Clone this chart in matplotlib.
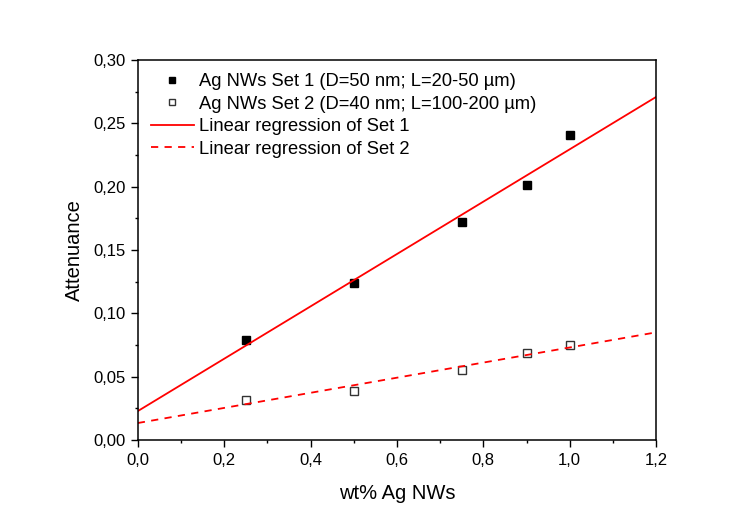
import numpy as np
import matplotlib
matplotlib.use("Agg")
import matplotlib.pyplot as plt
from matplotlib.ticker import MultipleLocator, FuncFormatter

plt.rcParams['font.family'] = ['Liberation Sans', 'DejaVu Sans']

# data
wt = [0.25, 0.5, 0.75, 0.9, 1.0]
set1 = [0.079, 0.124, 0.172, 0.201, 0.241]
set2 = [0.032, 0.039, 0.055, 0.069, 0.075]

label1 = "Ag NWs Set 1 (D=50 nm; L=20-50 µm)"
label2 = "Ag NWs Set 2 (D=40 nm; L=100-200 µm)"
fit1_label = "Linear regression of Set 1"
fit2_label = "Linear regression of Set 2"

# linear fits
k1, b1 = np.polyfit(wt, set1, 1)
k2, b2 = np.polyfit(wt, set2, 1)
xfit = np.array([0.0, 1.2])

fig = plt.figure(figsize=(7.49, 5.22), dpi=100)
ax = fig.add_axes([0.184, 0.157, 0.692, 0.728])

ax.plot(wt, set1, ls='none', marker='s', ms=5.8, mfc='black', mec='black', label=label1)
ax.plot(wt, set2, ls='none', marker='s', ms=5.8, mfc='white', mec='#333333', mew=1.0, label=label2)
ax.plot(xfit, k1 * xfit + b1, color='red', lw=1.3, label=fit1_label)
ax.plot(xfit, k2 * xfit + b2, color='red', lw=1.3, ls=(0, (4, 3.5)), label=fit2_label)

ax.set_xlim(0, 1.2)
ax.set_ylim(0, 0.30)
ax.xaxis.set_major_locator(MultipleLocator(0.2))
ax.xaxis.set_minor_locator(MultipleLocator(0.1))
ax.yaxis.set_major_locator(MultipleLocator(0.05))
ax.yaxis.set_minor_locator(MultipleLocator(0.025))
ax.xaxis.set_major_formatter(FuncFormatter(lambda v, p: f"{v:.1f}".replace('.', ',')))
ax.yaxis.set_major_formatter(FuncFormatter(lambda v, p: f"{v:.2f}".replace('.', ',')))

ax.tick_params(which='major', direction='out', length=5, width=1.0, labelsize=12)
ax.tick_params(axis='x', which='major', pad=4)
ax.tick_params(axis='y', which='major', pad=3.5)
ax.tick_params(which='minor', direction='out', length=2.5, width=1.0)
for s in ax.spines.values():
    s.set_linewidth(1.1)

ax.set_xlabel("wt% Ag NWs", fontsize=14.5, labelpad=12)
ax.set_ylabel("Attenuance", fontsize=14.5, labelpad=7)

ax.legend(loc='upper left', frameon=False, fontsize=13.2, handlelength=2.3,
          handletextpad=0.3, labelspacing=0.3, borderaxespad=0.0,
          markerscale=0.8, bbox_to_anchor=(0.012, 0.985))

fig.savefig("out.png", dpi=100)
